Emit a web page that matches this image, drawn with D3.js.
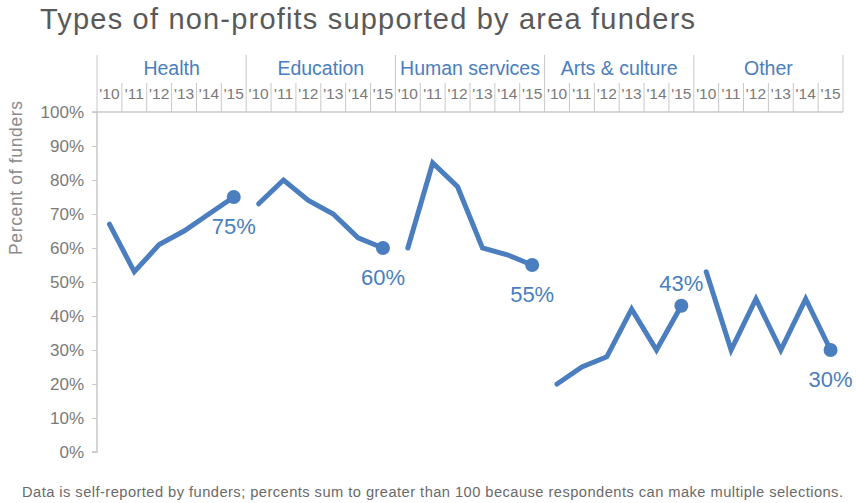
<!DOCTYPE html>
<html><head><meta charset="utf-8">
<script src="https://cdn.jsdelivr.net/npm/d3@7"></script>
<style>
body{margin:0;background:#fff;}
svg{display:block;font-family:"Liberation Sans",Arial,Helvetica,sans-serif;}
</style></head>
<body>
<svg id="chart" width="856" height="503"></svg>
<script>
const groups = ["Health","Education","Human services","Arts & culture","Other"];
const years = ["'10","'11","'12","'13","'14","'15"];
const health = [67,53,61,65,70,75];
const education = [73,80,74,70,63,60];
const humanServices = [60,85,78,60,58,55];
const artsCulture = [20,25,28,42,30,43];
const other = [53,30,45,30,45,30];
const seriesValues = [health, education, humanServices, artsCulture, other];
const yTicks = [0,10,20,30,40,50,60,70,80,90,100];
const labelAbove = [false,false,false,true,false];

(function(){
const svg = d3.select("#chart");
const mL = 97, mR = 843, mT = 112, mB = 452;
const blue = "#4a7ebe";
const grid = "#c8c8c8";

const cols = [];
groups.forEach((g,gi)=>years.forEach((yy,yi)=>cols.push(g+"|"+yy)));
const x = d3.scaleBand().domain(cols).range([mL,mR]).padding(0);
const y = d3.scaleLinear().domain([0,100]).range([mB,mT]);

// title
svg.append("text").attr("x",40).attr("y",29).attr("font-size",29).attr("fill","#595959")
  .attr("textLength",655).attr("lengthAdjust","spacing")
  .text("Types of non-profits supported by area funders");

// y axis
const yAxis = d3.axisLeft(y).tickValues(yTicks).tickSize(5).tickPadding(8).tickFormat(d=>d+"%");
const ga = svg.append("g").attr("transform",`translate(${mL},0)`).call(yAxis);
ga.select(".domain").attr("stroke",grid).attr("stroke-width",1.5).attr("d",`M-5,${mT}H0V${mB}H-5`);
ga.selectAll(".tick line").attr("stroke",grid);
ga.selectAll(".tick text").attr("font-size",17).attr("fill","#7a7a7a").attr("font-family","Liberation Sans, Arial, sans-serif");

svg.append("text").attr("transform",`translate(22,178) rotate(-90)`).attr("text-anchor","middle")
  .attr("font-size",17.5).attr("fill","#8a8a8a")
  .attr("textLength",154).attr("lengthAdjust","spacing").text("Percent of funders");

// header
const hdr = svg.append("g");
hdr.append("line").attr("x1",mL).attr("x2",mR).attr("y1",mT).attr("y2",mT).attr("stroke",grid).attr("stroke-width",1.5);
cols.forEach((c,i)=>{
  const xx = x(c);
  const isGroup = i%years.length===0;
  hdr.append("line").attr("x1",xx).attr("x2",xx).attr("y1",isGroup?55:83).attr("y2",mT)
    .attr("stroke",grid).attr("stroke-width",1);
  hdr.append("text").attr("x",xx+x.bandwidth()/2).attr("y",99).attr("text-anchor","middle")
    .attr("font-size",15.5).attr("fill","#7a7a7a").text(c.split("|")[1]);
});
hdr.append("line").attr("x1",mR).attr("x2",mR).attr("y1",55).attr("y2",mT).attr("stroke",grid).attr("stroke-width",1);
groups.forEach((g,gi)=>{
  const x0 = x(g+"|"+years[0]), x1 = x(g+"|"+years[years.length-1])+x.bandwidth();
  hdr.append("text").attr("x",(x0+x1)/2).attr("y",75).attr("text-anchor","middle")
    .attr("font-size",19.5).attr("fill",blue).text(g);
});

// lines
const line = d3.line().x(d=>x(d.k)+x.bandwidth()/2).y(d=>y(d.v));
groups.forEach((g,gi)=>{
  const pts = seriesValues[gi].map((v,yi)=>({k:g+"|"+years[yi],v}));
  svg.append("path").datum(pts).attr("d",line).attr("fill","none").attr("stroke",blue)
    .attr("stroke-width",5).attr("stroke-linejoin","miter").attr("stroke-linecap","round");
  const last = pts[pts.length-1];
  const cx = x(last.k)+x.bandwidth()/2, cy = y(last.v);
  svg.append("circle").attr("cx",cx).attr("cy",cy).attr("r",7).attr("fill",blue);
  svg.append("text").attr("x",cx).attr("y",labelAbove[gi]?cy-15:cy+37).attr("text-anchor","middle")
    .attr("font-size",22).attr("fill",blue).text(last.v+"%");
});

// footnote
svg.append("text").attr("x",22).attr("y",497).attr("font-size",14.7).attr("fill","#6a6a6a")
  .attr("textLength",821).attr("lengthAdjust","spacing")
  .text("Data is self-reported by funders; percents sum to greater than 100 because respondents can make multiple selections.");
})();
</script>
</body></html>
